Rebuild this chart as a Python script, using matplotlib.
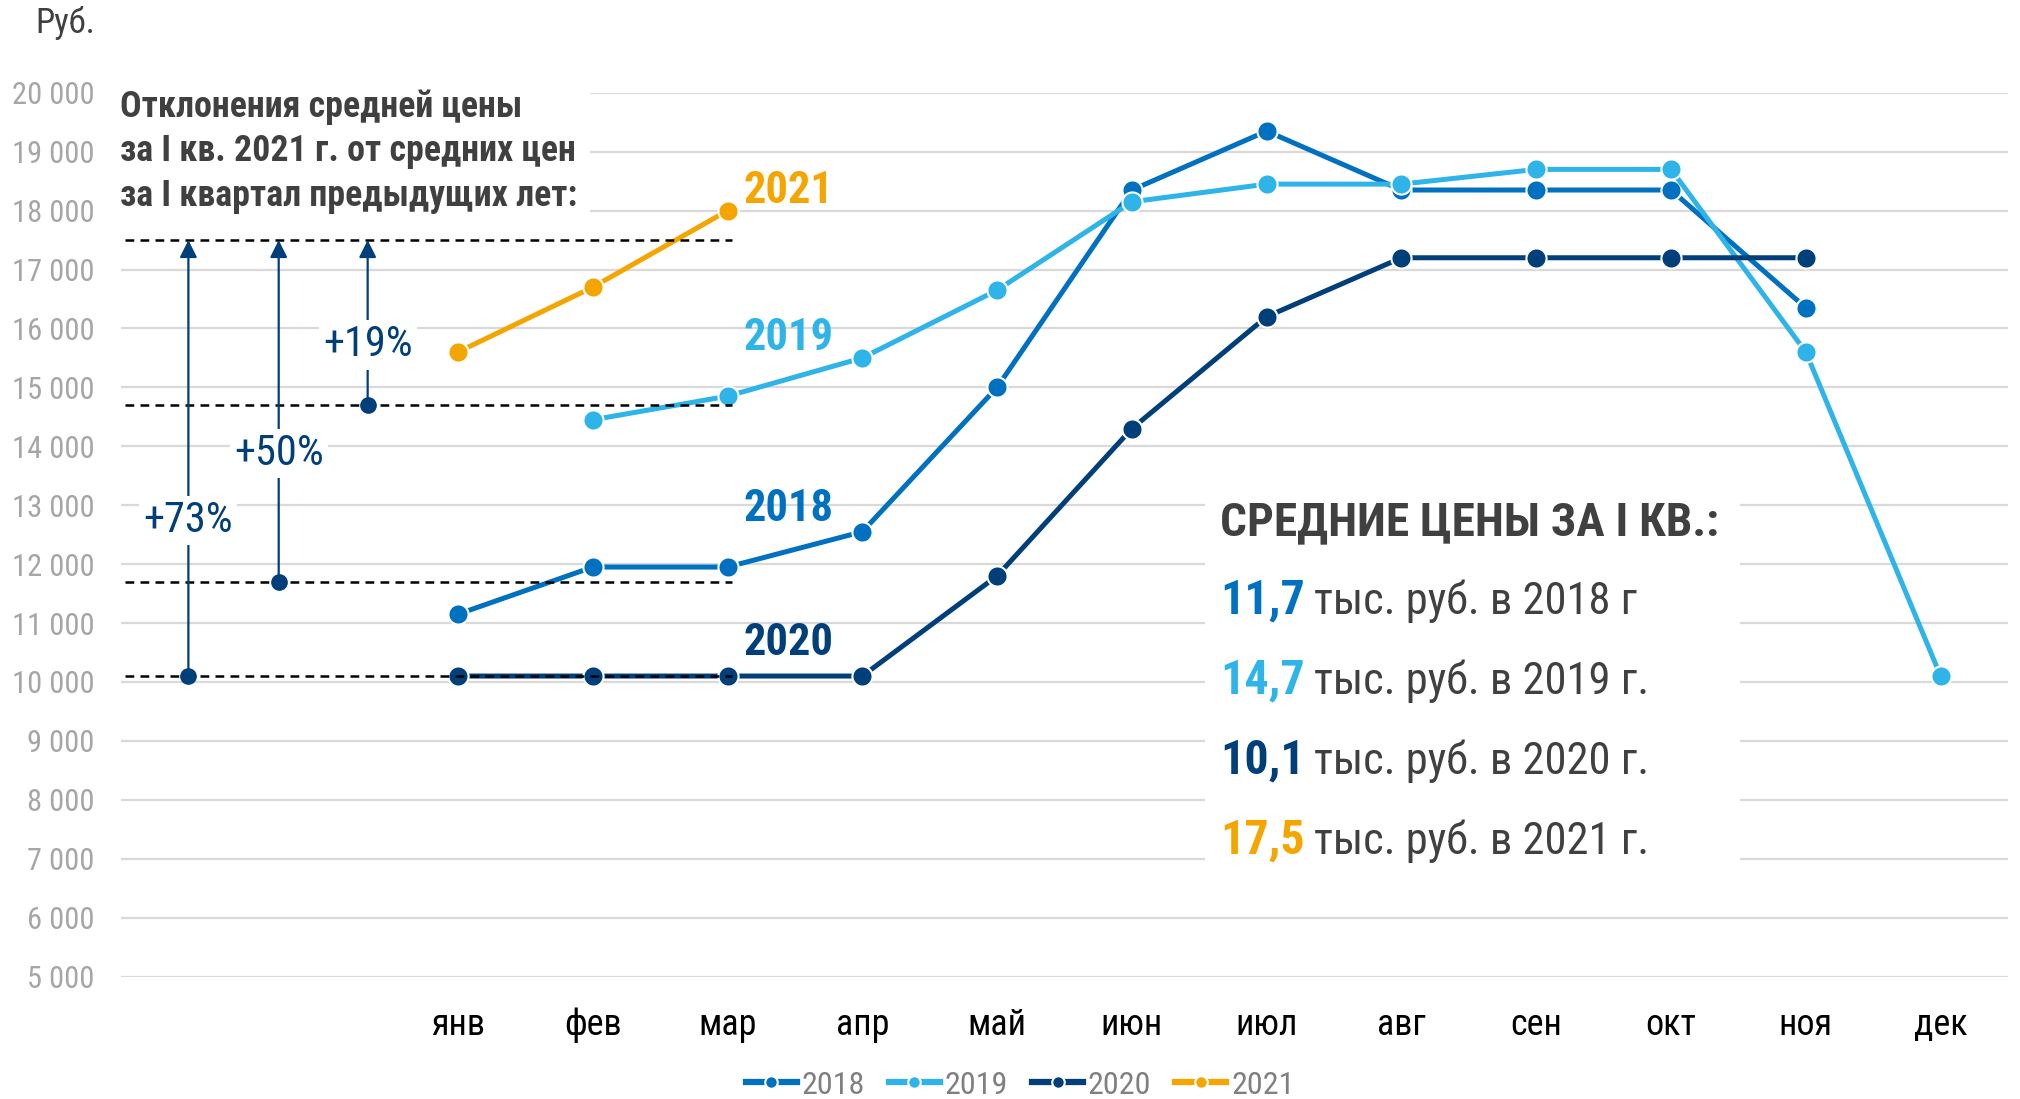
import matplotlib
matplotlib.use('Agg')
import matplotlib.pyplot as plt
from matplotlib import font_manager
from matplotlib.lines import Line2D
from matplotlib.patches import Rectangle
import numpy as np

# ---------------- data ----------------
months = ['янв', 'фев', 'мар', 'апр', 'май', 'июн', 'июл', 'авг', 'сен', 'окт', 'ноя', 'дек']
years = ['2018', '2019', '2020', '2021']
v2018 = [11150, 11950, 11950, 12550, 15000, 18350, 19350, 18350, 18350, 18350, 16350, None]
v2019 = [None, 14450, 14850, 15500, 16650, 18150, 18450, 18450, 18700, 18700, 15600, 10100]
v2020 = [10100, 10100, 10100, 10100, 11800, 14300, 16200, 17200, 17200, 17200, 17200, None]
v2021 = [15600, 16700, 18000, None, None, None, None, None, None, None, None, None]
q1_avg = [11700, 14700, 10100, 17500]          # 2018, 2019, 2020, 2021
q1_avg_text = ['11,7', '14,7', '10,1', '17,5']
q1_suffix = ['тыс. руб. в 2018 г', 'тыс. руб. в 2019 г.', 'тыс. руб. в 2020 г.', 'тыс. руб. в 2021 г.']
deviation_labels = ['+73%', '+50%', '+19%']     # vs 2020, 2018, 2019
deviation_base = [10100, 11700, 14700]
deviation_label_y = [12740, 13880, 15720]
yticks = list(range(5000, 20001, 1000))

# ---------------- style ----------------
names = {f.name for f in font_manager.fontManager.ttflist}
NARROW = 'Liberation Sans'
for cand in ['Liberation Sans Narrow', 'Arial Narrow', 'Roboto Condensed', 'Liberation Sans']:
    if cand in names:
        NARROW = cand
        break
plt.rcParams['font.family'] = [NARROW, 'DejaVu Sans']

c2018 = '#0070c0'
c2019 = '#2eb4e8'
c2020 = '#003f7a'
c2021 = '#f5a500'
colors = [c2018, c2019, c2020, c2021]
dark = '#404040'
navy = '#003f7a'

W, H = 2020, 1099
fig = plt.figure(figsize=(W / 100, H / 100), dpi=100)
L, R, B, T = 121, 2008, 976.5, 92.8
ax = fig.add_axes([L / W, 1 - B / H, (R - L) / W, (B - T) / H])

def fx(px):
    return px / W

def fy(py):
    return 1 - py / H

# x positions: two empty slots before январь
xpos = np.arange(len(months)) + 2
ax.set_xlim(-0.5, 13.5)
ax.set_ylim(5000, 20000)
ax.set_yticks(yticks)
ax.set_yticklabels([f'{v:,}'.replace(',', ' ') for v in yticks])
ax.set_xticks(xpos)
ax.set_xticklabels(months)
ax.tick_params(axis='y', length=0, pad=19, labelsize=22, labelcolor='#a6a6a6')
ax.tick_params(axis='x', length=0, pad=22, labelsize=26, labelcolor='black')
for s in ax.spines.values():
    s.set_visible(False)
ax.set_axisbelow(True)
ax.grid(axis='y', color='#d9d9d9', lw=1.6)
ax.grid(axis='x', visible=False)

# white boxes behind text blocks (cover gridlines)
ax.add_patch(Rectangle((-0.5, 17800), 3.48, 2500, fc='white', ec='none', zorder=1, clip_on=False))
ax.add_patch(Rectangle((7.54, 6700), 3.97, 6600, fc='white', ec='none', zorder=1))

# series
series = [v2018, v2019, v2020, v2021]
for vals, col in zip(series, colors):
    y = np.array([np.nan if v is None else v for v in vals], dtype=float)
    ax.plot(xpos, y, '-o', color=col, lw=3.6, ms=14.5, mec='white', mew=1.5, zorder=3,
            solid_capstyle='butt')

# dashed reference lines for Q1 averages
ax.hlines(q1_avg, -0.47, 4.03, colors='black', linestyles=(0, (3.5, 2.5)), lw=1.8, zorder=4)

# deviation arrows
arrow_x = [0.0, 0.67, 1.33]
for xa, base, lab, ly in zip(arrow_x, deviation_base, deviation_labels, deviation_label_y):
    ax.annotate('', xy=(xa, q1_avg[3]), xytext=(xa, base),
                arrowprops=dict(arrowstyle='-|>', color=navy, lw=1.6, mutation_scale=26,
                                shrinkA=0, shrinkB=0), zorder=5)
    ax.plot([xa], [base], 'o', color=navy, ms=11, zorder=6)
    ax.text(xa, ly, lab, ha='center', va='center', fontsize=30.5, color=navy, zorder=7,
            bbox=dict(fc='white', ec='none', pad=3))

# year labels near series
year_lab_x = 4.45
year_lab_y = [12940, 15845, 10662, 18338]
for yr, ly, col in zip(years, year_lab_y, colors):
    ax.text(year_lab_x, ly, yr, ha='center', va='center', fontsize=32, fontweight='bold',
            color=col, zorder=7)

# title block top-left
title_lines = ['Отклонения средней цены', 'за I кв. 2021 г. от средних цен',
               'за I квартал предыдущих лет:']
for line, py in zip(title_lines, [107, 151, 196]):
    fig.text(fx(120), fy(py), line, ha='left', va='center', fontsize=25.8,
             fontweight='bold', color=dark)

fig.text(fx(35), fy(23), 'Руб.', ha='left', va='center', fontsize=25, color=dark)

# right info block
fig.text(fx(1220), fy(522), 'СРЕДНИЕ ЦЕНЫ ЗА I КВ.:', ha='left', va='center', fontsize=34,
         fontweight='bold', color=dark)
for num, suf, col, py in zip(q1_avg_text, q1_suffix, colors, [600, 680, 760, 840]):
    t = fig.text(fx(1220), fy(py), num, ha='left', va='center', fontsize=34.5,
                 fontweight='bold', color=col)
    fig.add_artist(matplotlib.text.Annotation(
        suf, xy=(1, 0), xycoords=t, xytext=(7, 0), textcoords='offset points',
        ha='left', va='bottom', fontsize=32, color=dark, annotation_clip=False))

# legend
handles = [Line2D([0], [0], color=c, lw=4.5, marker='o', ms=9, mec='white', mew=1.5)
           for c in colors]
fig.legend(handles, years, loc='center', bbox_to_anchor=(0.505, fy(1085)), ncol=4,
           frameon=False, fontsize=23, labelcolor='#808080', handlelength=1.6,
           handletextpad=0.15, columnspacing=0.75, borderaxespad=0)

fig.savefig('out.png', dpi=100)
